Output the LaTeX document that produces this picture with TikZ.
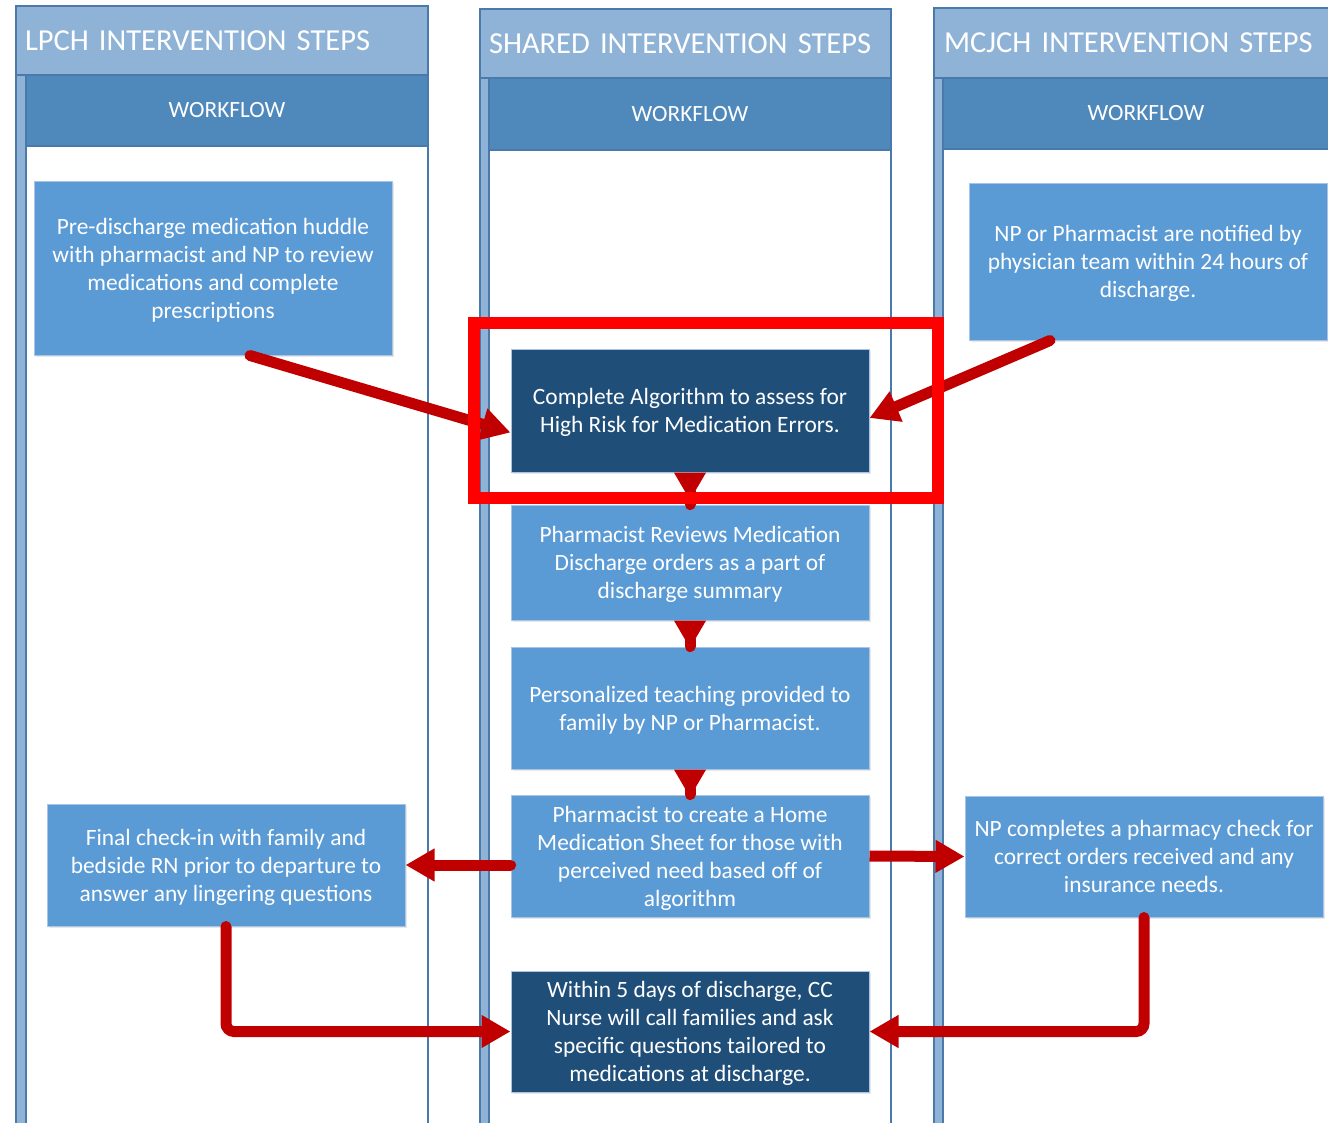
\documentclass[tikz,border=0pt]{standalone}
\usepackage{fontspec}
\setmainfont{Carlito}
\usepackage{tikz}
\usetikzlibrary{arrows.meta,shadows}
\definecolor{lanetitle}{HTML}{8FB3D6}
\definecolor{laneflow}{HTML}{4F88BB}
\definecolor{laneline}{HTML}{4A79AB}
\definecolor{boxlight}{HTML}{5B9BD5}
\definecolor{boxdark}{HTML}{1F4E79}
\definecolor{boxedge}{HTML}{A9C4E4}
\definecolor{arrowred}{HTML}{C00000}

\begin{document}
\begin{tikzpicture}[x=1pt, y=-1pt,
  lane/.style={draw=laneline, line width=1.5pt, fill=white},
  strip/.style={draw=laneline, line width=1.2pt, fill=lanetitle},
  titlebar/.style={draw=laneline, line width=1.5pt, fill=lanetitle, text=white,
    inner xsep=9pt, inner ysep=0pt, align=left, font=\fontsize{30.5}{35}\selectfont},
  flowbar/.style={draw=laneline, line width=1.5pt, fill=laneflow, text=white,
    inner sep=0pt, font=\fontsize{23.3}{28}\selectfont},
  stepbase/.style={draw=boxedge, line width=1pt, text=white, align=center,
    minimum width=358pt, inner sep=0pt, text depth=0pt, font=\fontsize{23.4}{28}\selectfont,
    drop shadow={opacity=0.18, shadow xshift=2pt, shadow yshift=-2pt}},
  lightbox/.style={stepbase, fill=boxlight, minimum height=#1},
  darkbox/.style={stepbase, fill=boxdark, minimum height=#1},
  flow/.style={draw=arrowred, line width=11pt, line cap=round,
    -{Triangle[length=29pt,width=31pt]}},
  stub/.style={draw=arrowred, line width=11pt, line cap=round,
    {Triangle[reversed,length=28pt,width=30pt]}-},
  highlight/.style={draw=red, line width=12pt}]
  \useasboundingbox (0,0) rectangle (1328,1122);
  \clip (0,0) rectangle (1328,1122);

  % LPCH lane
  \draw[lane] (16,6) rectangle (428,1140);
  \draw[strip] (16,75) rectangle (26,1140);
  \node[titlebar, minimum width=412pt, minimum height=69pt, text width=394pt] (lpch) at (222,40.5) {LPCH INTERVENTION STEPS};
  \node[flowbar, minimum width=402pt, minimum height=71pt] (lpchflow) at (227,110.5) {WORKFLOW};

  % shared lane
  \draw[lane] (480,9) rectangle (891,1140);
  \draw[strip] (480,78) rectangle (489,1140);
  \node[titlebar, minimum width=411pt, minimum height=69pt, text width=393pt] (shared) at (685.5,43.5) {SHARED INTERVENTION STEPS};
  \node[flowbar, minimum width=402pt, minimum height=72pt] (sharedflow) at (690,114) {WORKFLOW};

  % MCJCH lane
  \draw[lane] (934,8) rectangle (1349,1140);
  \draw[strip] (934,78) rectangle (943,1140);
  \node[titlebar, minimum width=415pt, minimum height=70pt, text width=395pt] (mcjch) at (1141.5,43) {MCJCH INTERVENTION STEPS};
  \node[flowbar, minimum width=406pt, minimum height=71pt] (mcjchflow) at (1146,113.5) {WORKFLOW};

  % steps
  \node[lightbox=174pt] (huddle) at (213,268) {Pre-discharge medication huddle\\with pharmacist and NP to review\\medications and complete\\prescriptions};
  \node[lightbox=157pt] (notified) at (1148,261.5) {NP or Pharmacist are notified by\\physician team within 24 hours of\\discharge.};
  \node[darkbox=123pt] (algo) at (690,410.5) {Complete Algorithm to assess for\\High Risk for Medication Errors.};
  \node[lightbox=115pt] (review) at (690,562.5) {Pharmacist Reviews Medication\\Discharge orders as a part of\\discharge summary};
  \node[lightbox=122pt] (teach) at (690,708) {Personalized teaching provided to\\family by NP or Pharmacist.};
  \node[lightbox=122pt] (create) at (690,856) {Pharmacist to create a Home\\Medication Sheet for those with\\perceived need based off of\\algorithm};
  \node[lightbox=122pt] (final) at (226,865) {Final check-in with family and\\bedside RN prior to departure to\\answer any lingering questions};
  \node[lightbox=121pt] (ncheck) at (1144,856.5) {NP completes a pharmacy check for\\correct orders received and any\\insurance needs.};
  \node[darkbox=121pt] (within) at (690,1031.5) {Within 5 days of discharge, CC\\Nurse will call families and ask\\specific questions tailored to\\medications at discharge.};

  % connectors
  \draw[flow] ([xshift=37pt]huddle.south) -- ([yshift=-22pt]algo.west);
  \draw[flow] ([xshift=-98pt]notified.south) -- ([yshift=-7.5pt]algo.east);
  \draw[stub] (algo.south) -- (review.north);
  \draw[stub] (review.south) -- (teach.north);
  \draw[stub] (teach.south) -- (create.north);
  \draw[flow] (create.west |- final.east) -- (final.east);
  \draw[flow, line cap=butt] (create.east) -- (ncheck.west);
  \draw[flow, rounded corners=8pt] (final.south) |- (within.west);
  \draw[flow, rounded corners=8pt] (ncheck.south) |- (within.east);

  % highlight
  \draw[highlight] (474,323) rectangle (938,498);
\end{tikzpicture}
\end{document}
